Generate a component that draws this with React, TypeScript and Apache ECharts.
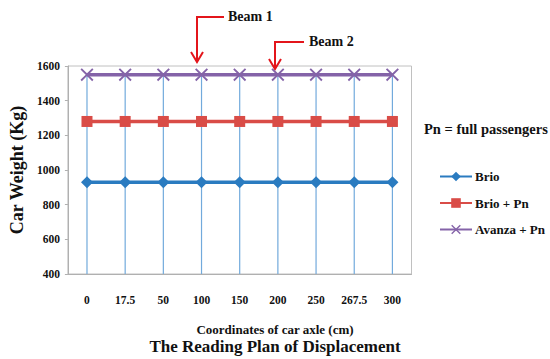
import React, { useEffect, useRef } from "react";
import * as echarts from "echarts";

const categories = ["0", "17.5", "50", "100", "150", "200", "250", "267.5", "300"];
const brio = [930, 930, 930, 930, 930, 930, 930, 930, 930];
const brioPn = [1280, 1280, 1280, 1280, 1280, 1280, 1280, 1280, 1280];
const avanzaPn = [1550, 1550, 1550, 1550, 1550, 1550, 1550, 1550, 1550];
const seriesNames = ["Brio", "Brio + Pn", "Avanza + Pn"];
const yMin = 400;
const yMax = 1600;
const yInterval = 200;

const FONT = "Liberation Serif";
const X_PATH = "path://M0,1L1,0L5,4L9,0L10,1L6,5L10,9L9,10L5,6L1,10L0,9L4,5Z";

export default function App() {
  const ref = useRef<HTMLDivElement>(null);
  useEffect(() => {
    if (!ref.current) return;
    const chart = echarts.init(ref.current, null, { renderer: "svg" });
    const red = "#e3151b";
    const dropLines = avanzaPn.map((v) => v);
    chart.setOption({
      animation: false,
      backgroundColor: "#ffffff",
      textStyle: { fontFamily: FONT },
      title: [
        {
          text: "Coordinates of car axle (cm)",
          left: "center",
          top: 318,
          textStyle: { fontFamily: FONT, fontSize: 13, fontWeight: "bold", color: "#111" },
        },
        {
          text: "The Reading Plan of Displacement",
          left: "center",
          top: 333,
          textStyle: { fontFamily: FONT, fontSize: 17, fontWeight: "bold", color: "#111" },
        },
      ],
      grid: {
        left: 60.5,
        right: 138.5,
        top: 66,
        bottom: 85,
        show: true,
        borderColor: "#c0c0c0",
        borderWidth: 1,
      },
      legend: {
        orient: "vertical",
        left: 434,
        top: 165,
        itemWidth: 32,
        itemHeight: 12,
        itemGap: 13.5,
        data: seriesNames,
        textStyle: { fontFamily: FONT, fontSize: 13, fontWeight: "bold", color: "#111", padding: [0, 0, 0, -2] },
      },
      xAxis: {
        type: "category",
        data: categories,
        boundaryGap: true,
        axisLine: { lineStyle: { color: "#b0b0b0" } },
        axisTick: { show: false },
        axisLabel: { margin: 20, fontFamily: FONT, fontSize: 11.5, fontWeight: "bold", color: "#111" },
        splitLine: { show: false },
      },
      yAxis: {
        type: "value",
        min: yMin,
        max: yMax,
        interval: yInterval,
        name: "Car Weight (Kg)",
        nameLocation: "middle",
        nameGap: 40,
        nameTextStyle: { fontFamily: FONT, fontSize: 18, fontWeight: "bold", color: "#111" },
        axisLine: { show: true, lineStyle: { color: "#b0b0b0" } },
        axisTick: { show: true, length: 3, lineStyle: { color: "#b0b0b0" } },
        axisLabel: {
          margin: 8,
          fontFamily: FONT,
          fontSize: 11.5,
          fontWeight: "bold",
          color: "#111",
          formatter: (v: number) => String(v),
        },
        splitLine: { show: false },
      },
      series: [
        {
          name: "drop",
          type: "bar",
          data: dropLines,
          barWidth: 1.2,
          itemStyle: { color: "#72aadc" },
          silent: true,
          z: 1,
        },
        {
          name: seriesNames[0],
          type: "line",
          data: brio,
          symbol: "diamond",
          symbolSize: 12,
          lineStyle: { color: "#2a7bc0", width: 3.5 },
          itemStyle: { color: "#2a7bc0" },
          z: 3,
        },
        {
          name: seriesNames[1],
          type: "line",
          data: brioPn,
          symbol: "rect",
          symbolSize: 11,
          lineStyle: { color: "#d94c47", width: 3.5 },
          itemStyle: { color: "#d94c47" },
          z: 3,
        },
        {
          name: seriesNames[2],
          type: "line",
          data: avanzaPn,
          symbol: X_PATH,
          symbolSize: 13,
          lineStyle: { color: "#8463a8", width: 3.5 },
          itemStyle: { color: "#8463a8" },
          z: 3,
        },
      ],
      graphic: [
        {
          type: "text",
          left: 424,
          top: 121,
          style: { text: "Pn = full passengers", fontFamily: FONT, fontSize: 14.5, fontWeight: "bold", fill: "#111" },
        },
        // Beam 1 arrow
        { type: "polyline", shape: { points: [[224, 17], [197, 17], [197, 61]] }, style: { stroke: red, lineWidth: 2, fill: "none" } },
        { type: "polyline", shape: { points: [[191, 52], [197, 62], [203, 52]] }, style: { stroke: red, lineWidth: 2, fill: "none" } },
        {
          type: "text",
          left: 228,
          top: 9,
          style: { text: "Beam 1", fontFamily: FONT, fontSize: 14, fontWeight: "bold", fill: "#111" },
        },
        // Beam 2 arrow
        { type: "polyline", shape: { points: [[304, 42], [275, 42], [275, 68]] }, style: { stroke: red, lineWidth: 2, fill: "none" } },
        { type: "polyline", shape: { points: [[269, 59], [275, 69], [281, 59]] }, style: { stroke: red, lineWidth: 2, fill: "none" } },
        {
          type: "text",
          left: 309,
          top: 34,
          style: { text: "Beam 2", fontFamily: FONT, fontSize: 14, fontWeight: "bold", fill: "#111" },
        },
      ],
    });
    return () => chart.dispose();
  }, []);
  return <div ref={ref} style={{ width: 550, height: 359, position: "fixed", left: 0, top: 0 }} />;
}
